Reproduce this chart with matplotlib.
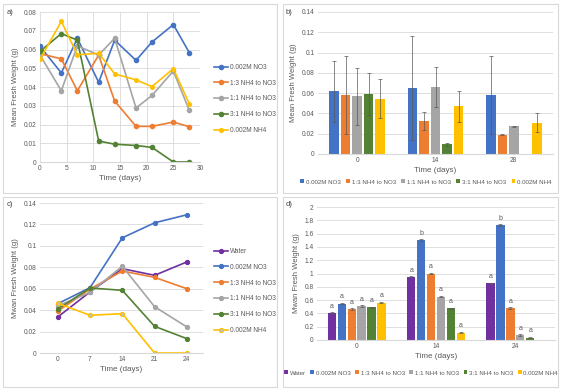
import numpy as np
import matplotlib
matplotlib.use("Agg")
import matplotlib.pyplot as plt
from matplotlib.patches import Rectangle

plt.rcParams['font.family'] = ['Liberation Sans', 'DejaVu Sans']
TXT = '#595959'
GRID = '#D9D9D9'

# ---- data ----
days_a = [0, 4, 7, 11, 14, 18, 21, 25, 28]
names5 = ['0.002M NO3', '1:3 NH4 to NO3', '1:1 NH4 to NO3', '3:1 NH4 to NO3', '0.002M NH4']
a_no3 = [0.0617, 0.0475, 0.0660, 0.0425, 0.0650, 0.0542, 0.0640, 0.0733, 0.0583]
a_13 = [0.0578, 0.0550, 0.0380, 0.0570, 0.0325, 0.0190, 0.0190, 0.0213, 0.0188]
a_11 = [0.0570, 0.0380, 0.0620, 0.0570, 0.0660, 0.0288, 0.0355, 0.0485, 0.0275]
a_31 = [0.0590, 0.0685, 0.0650, 0.0112, 0.0095, 0.0088, 0.0078, 0.0, 0.0]
a_nh4 = [0.0548, 0.0750, 0.0572, 0.0580, 0.0470, 0.0438, 0.0402, 0.0498, 0.0310]

days_b = ['0', '14', '28']
b_mean = [[0.0617, 0.0650, 0.0583],
          [0.0578, 0.0325, 0.0190],
          [0.0570, 0.0660, 0.0275],
          [0.0590, 0.0095, np.nan],
          [0.0545, 0.0470, 0.0310]]
b_err = [[0.0300, 0.0510, 0.0385],
         [0.0385, 0.0090, 0.0005],
         [0.0280, 0.0195, 0.0005],
         [0.0205, 0.0015, np.nan],
         [0.0190, 0.0150, 0.0095]]

days_c = ['0', '7', '14', '21', '24']
names6 = ['Water'] + names5
c_vals = [[0.0336, 0.0570, 0.0787, 0.0725, 0.0850],
          [0.0460, 0.0610, 0.1075, 0.1215, 0.1290],
          [0.0390, 0.0597, 0.0765, 0.0706, 0.0600],
          [0.0440, 0.0565, 0.0810, 0.0432, 0.0243],
          [0.0410, 0.0607, 0.0585, 0.0249, 0.0134],
          [0.0464, 0.0352, 0.0367, 0.0, 0.0]]

days_d = ['0', '14', '24']
d_vals = [[0.405, 0.950, 0.850],
          [0.548, 1.505, 1.730],
          [0.467, 1.000, 0.480],
          [0.510, 0.650, 0.075],
          [0.490, 0.475, 0.035],
          [0.560, 0.110, np.nan]]
d_letters = [['a', 'a', 'a'],
             ['a', 'b', 'b'],
             ['a', 'a', 'a'],
             ['a', 'a', 'a'],
             ['a', 'a', 'a'],
             ['a', 'a', '']]

col5 = ['#4472C4', '#ED7D31', '#A5A5A5', '#548235', '#FFC000']
col6 = ['#7030A0'] + col5

W, H = 561, 390
fig = plt.figure(figsize=(W / 100, H / 100), dpi=100)


def box(x0, y0, x1, y1):
    return [x0 / W, 1 - y1 / H, (x1 - x0) / W, (y1 - y0) / H]


# panel borders
for (x0, y0, x1, y1) in [(3, 4, 277, 193), (283, 4, 558, 193), (3, 197, 277, 387), (283, 197, 558, 387)]:
    fig.patches.append(Rectangle((x0 / W, 1 - y1 / H), (x1 - x0) / W, (y1 - y0) / H,
                                 transform=fig.transFigure, fill=False, ec='#D9D9D9', lw=0.8))
for lab, (x, y) in zip(['a)', 'b)', 'c)', 'd)'], [(7, 12), (286, 12), (7, 205), (286, 205)]):
    fig.text(x / W, 1 - y / H, lab, fontsize=5.5, color='#404040', va='center')


def style(ax, ylab, xlab='Time (days)'):
    for s in ['top', 'right', 'left']:
        ax.spines[s].set_visible(False)
    ax.spines['bottom'].set_color(GRID)
    ax.tick_params(length=0, labelsize=4.8, colors=TXT, pad=2.5)
    ax.yaxis.grid(True, color=GRID, lw=0.6)
    ax.set_axisbelow(True)
    ax.set_ylabel(ylab, fontsize=5.5, color=TXT, labelpad=3)
    ax.set_xlabel(xlab, fontsize=5.8, color=TXT, labelpad=2)


side_leg = dict(bbox_transform=fig.transFigure, frameon=False, fontsize=4.7, labelcolor=TXT,
                handlelength=2.2, labelspacing=1.35, handletextpad=0.2, borderaxespad=0, borderpad=0)
bot_leg = dict(bbox_transform=fig.transFigure, frameon=False, fontsize=4.4, labelcolor=TXT,
               handlelength=0.6, handleheight=0.6, handletextpad=0.3, borderpad=0)

# ---- a ----
ax = fig.add_axes(box(40, 12, 200, 162))
for vals, c, n in zip([a_no3, a_13, a_11, a_31, a_nh4], col5, names5):
    ax.plot(days_a, vals, color=c, lw=1.2, marker='o', ms=3.0 if n != '0.002M NH4' else 2.6, label=n)
ax.set_xlim(0, 30)
ax.set_ylim(0, 0.08)
ax.set_xticks(range(0, 31, 5))
ax.set_yticks(np.arange(0, 0.081, 0.01))
ax.set_yticklabels(['0'] + ['%.2f' % v for v in np.arange(0.01, 0.081, 0.01)])
style(ax, 'Mean Fresh Weight (g)')
ax.xaxis.grid(True, color=GRID, lw=0.6)
ax.legend(loc='center left', bbox_to_anchor=(214 / W, 1 - 99 / H), **side_leg)

# ---- b ----
ax = fig.add_axes(box(318, 12, 553, 154))
xb = np.arange(len(days_b))
step, bw = 0.147, 0.12
for i in range(5):
    pos = xb + (i - 2) * step
    ax.bar(pos, b_mean[i], bw, color=col5[i], label=names5[i])
    ax.errorbar(pos, b_mean[i], yerr=b_err[i], fmt='none', ecolor='#595959', elinewidth=0.5,
                capsize=1.5, capthick=0.5)
ax.set_xlim(-0.5, 2.5)
ax.set_ylim(0, 0.14)
ax.set_xticks(xb)
ax.set_xticklabels(days_b)
ax.set_yticks(np.arange(0, 0.141, 0.02))
ax.set_yticklabels(['0', '0.02', '0.04', '0.06', '0.08', '0.1', '0.12', '0.14'])
style(ax, 'Mean Fresh Weight (g)')
ax.legend(loc='center', bbox_to_anchor=(426 / W, 1 - 182 / H), ncol=5, columnspacing=0.9, **bot_leg)

# ---- c ----
ax = fig.add_axes(box(40, 203, 203, 353))
xc = np.arange(len(days_c))
for vals, c, n in zip(c_vals, col6, names6):
    fc = '#BFBFBF' if n == '0.002M NH4' else c
    ax.plot(xc, vals, color=c, lw=1.2, marker='o', ms=3, mfc=fc, mec=c, mew=0.8, label=n)
ax.set_xlim(-0.55, 4.5)
ax.set_ylim(0, 0.14)
ax.set_xticks(xc)
ax.set_xticklabels(days_c)
ax.set_yticks(np.arange(0, 0.141, 0.02))
ax.set_yticklabels(['0', '0.02', '0.04', '0.06', '0.08', '0.1', '0.12', '0.14'])
style(ax, 'Mwan Fresh Weight (g)')
ax.legend(loc='center left', bbox_to_anchor=(214 / W, 1 - 291 / H), **side_leg)

# ---- d ----
ax = fig.add_axes(box(317, 207, 555, 340))
xd = np.arange(len(days_d))
step, bw = 0.125, 0.105
for i in range(6):
    pos = xd + (i - 2.5) * step
    ax.bar(pos, d_vals[i], bw, color=col6[i], label=names6[i])
    ax.errorbar(pos, d_vals[i], yerr=0.01, fmt='none', ecolor='#595959', elinewidth=0.5,
                capsize=1.2, capthick=0.5)
    for p, v, t in zip(pos, d_vals[i], d_letters[i]):
        if t:
            ax.text(p, v + 0.05, t, ha='center', va='bottom', fontsize=5, color=TXT)
ax.set_xlim(-0.5, 2.5)
ax.set_ylim(0, 2)
ax.set_xticks(xd)
ax.set_xticklabels(days_d)
ax.set_yticks(np.arange(0, 2.01, 0.2))
ax.set_yticklabels(['0', '0.2', '0.4', '0.6', '0.8', '1', '1.2', '1.4', '1.6', '1.8', '2'])
style(ax, 'Mwan Fresh Weight (g)')
ax.legend(loc='center', bbox_to_anchor=(421 / W, 1 - 373 / H), ncol=6, columnspacing=0.75, **bot_leg)

fig.savefig('out.png', dpi=100, facecolor='white')
